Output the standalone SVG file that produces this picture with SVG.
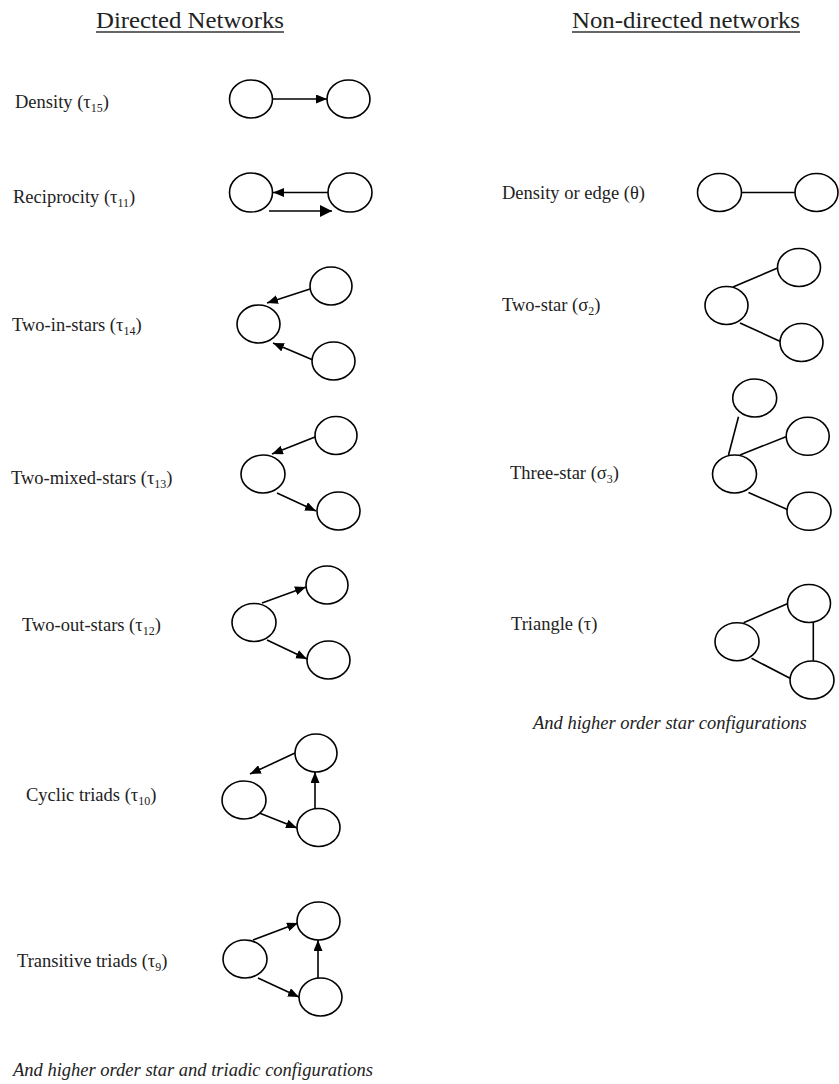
<svg xmlns="http://www.w3.org/2000/svg" width="839" height="1084" viewBox="0 0 839 1084">
<style>
  .hd { font-family: "Liberation Serif", "Times New Roman", serif; font-size: 23px; fill: #222; }
  .lb { font-family: "Liberation Serif", "Times New Roman", serif; font-size: 18.5px; fill: #222; }
  .ft { font-family: "Liberation Serif", "Times New Roman", serif; font-size: 18.5px; font-style: italic; fill: #222; }
  .nd { fill: #fff; stroke: #000; stroke-width: 1.6; }
  .ed { stroke: #000; stroke-width: 1.6; fill: none; }
  .ul { stroke: #333; stroke-width: 1.3; }
  .sub { font-size: 12px; }
</style>
<defs>
  <marker id="arr" viewBox="0 0 11 9" refX="11" refY="4.5" markerWidth="11" markerHeight="9" markerUnits="userSpaceOnUse" orient="auto">
    <path d="M0,0 L11,4.5 L0,9 z" fill="#000"/>
  </marker>
  <marker id="arrL" viewBox="0 0 12 12" refX="12" refY="6" markerWidth="12" markerHeight="12" markerUnits="userSpaceOnUse" orient="auto">
    <path d="M0,0 L12,6 L0,12 z" fill="#000"/>
  </marker>
</defs>
<rect width="839" height="1084" fill="#fff"/>

<g id="headers">
  <text class="hd" x="96" y="28" textLength="188" lengthAdjust="spacingAndGlyphs">Directed Networks</text>
  <line class="ul" x1="96" y1="32" x2="284" y2="32"/>
  <text class="hd" x="572" y="28" textLength="228" lengthAdjust="spacingAndGlyphs">Non-directed networks</text>
  <line class="ul" x1="572" y1="32" x2="800" y2="32"/>
</g>

<g id="labels">
  <text class="lb" x="15" y="108">Density (τ<tspan class="sub" dy="4">15</tspan><tspan dy="-4">)</tspan></text>
  <text class="lb" x="13" y="203">Reciprocity (τ<tspan class="sub" dy="4">11</tspan><tspan dy="-4">)</tspan></text>
  <text class="lb" x="12" y="331">Two-in-stars (τ<tspan class="sub" dy="4">14</tspan><tspan dy="-4">)</tspan></text>
  <text class="lb" x="11" y="484">Two-mixed-stars (τ<tspan class="sub" dy="4">13</tspan><tspan dy="-4">)</tspan></text>
  <text class="lb" x="22" y="631">Two-out-stars (τ<tspan class="sub" dy="4">12</tspan><tspan dy="-4">)</tspan></text>
  <text class="lb" x="26" y="801">Cyclic triads (τ<tspan class="sub" dy="4">10</tspan><tspan dy="-4">)</tspan></text>
  <text class="lb" x="17" y="967">Transitive triads (τ<tspan class="sub" dy="4">9</tspan><tspan dy="-4">)</tspan></text>
  <text class="ft" x="13" y="1076">And higher order star and triadic configurations</text>

  <text class="lb" x="502" y="199">Density or edge (θ)</text>
  <text class="lb" x="502" y="311">Two-star (σ<tspan class="sub" dy="4">2</tspan><tspan dy="-4">)</tspan></text>
  <text class="lb" x="510" y="479">Three-star (σ<tspan class="sub" dy="4">3</tspan><tspan dy="-4">)</tspan></text>
  <text class="lb" x="511" y="630">Triangle (τ)</text>
  <text class="ft" x="533" y="729">And higher order star configurations</text>
</g>

<g id="connectors">
  <line class="ed" x1="273" y1="99" x2="327" y2="99" marker-end="url(#arr)"/>
  <line class="ed" x1="328" y1="192.5" x2="273" y2="192.5" marker-end="url(#arr)"/>
  <line class="ed" x1="269" y1="211" x2="332" y2="211" stroke-width="2" marker-end="url(#arrL)"/>
  <line class="ed" x1="310" y1="289" x2="267" y2="303" marker-end="url(#arr)"/>
  <line class="ed" x1="313" y1="360" x2="273" y2="343" marker-end="url(#arr)"/>
  <line class="ed" x1="315" y1="437" x2="272" y2="454" marker-end="url(#arr)"/>
  <line class="ed" x1="277" y1="493" x2="316" y2="511" marker-end="url(#arr)"/>
  <line class="ed" x1="262" y1="603" x2="306" y2="587" marker-end="url(#arr)"/>
  <line class="ed" x1="267" y1="640" x2="307" y2="659" marker-end="url(#arr)"/>
  <line class="ed" x1="295" y1="753" x2="250" y2="774" marker-end="url(#arr)"/>
  <line class="ed" x1="247" y1="808" x2="297" y2="828" marker-end="url(#arr)"/>
  <line class="ed" x1="315" y1="809" x2="315" y2="772" marker-end="url(#arr)"/>
  <line class="ed" x1="253" y1="940" x2="298" y2="923" marker-end="url(#arr)"/>
  <line class="ed" x1="258" y1="978" x2="299" y2="997" marker-end="url(#arr)"/>
  <line class="ed" x1="318" y1="978" x2="318" y2="940" marker-end="url(#arr)"/>

  <line class="ed" x1="741.5" y1="192.5" x2="795" y2="192.5"/>
  <line class="ed" x1="733" y1="287" x2="780" y2="267"/>
  <line class="ed" x1="740" y1="323" x2="781.5" y2="342"/>
  <line class="ed" x1="728.5" y1="455" x2="738.5" y2="416.7"/>
  <line class="ed" x1="740" y1="455" x2="786" y2="436.7"/>
  <line class="ed" x1="748.5" y1="492.5" x2="788.5" y2="510"/>
  <line class="ed" x1="743.5" y1="622.7" x2="788.5" y2="603.3"/>
  <line class="ed" x1="751.5" y1="658.3" x2="790" y2="678.3"/>
  <line class="ed" x1="813.3" y1="622.7" x2="813.3" y2="660.7"/>
</g>

<g id="node-density">
  <ellipse class="nd" cx="251" cy="99" rx="21.5" ry="19"/>
  <ellipse class="nd" cx="348.5" cy="99" rx="21.5" ry="19"/>
</g>
<g id="node-reciprocity">
  <ellipse class="nd" cx="251" cy="192.5" rx="21.5" ry="19.5"/>
  <ellipse class="nd" cx="350" cy="192.5" rx="22" ry="19.5"/>
</g>
<g id="node-two-in-stars">
  <ellipse class="nd" cx="258.5" cy="324" rx="21.5" ry="19"/>
  <ellipse class="nd" cx="331" cy="286" rx="21" ry="19"/>
  <ellipse class="nd" cx="333.5" cy="361" rx="21.5" ry="19"/>
</g>
<g id="node-two-mixed-stars">
  <ellipse class="nd" cx="263" cy="474" rx="22" ry="19"/>
  <ellipse class="nd" cx="336" cy="435.5" rx="21" ry="19"/>
  <ellipse class="nd" cx="338.5" cy="511" rx="21.5" ry="19"/>
</g>
<g id="node-two-out-stars">
  <ellipse class="nd" cx="254" cy="622.5" rx="22" ry="19"/>
  <ellipse class="nd" cx="327" cy="585" rx="21" ry="19"/>
  <ellipse class="nd" cx="328.5" cy="660" rx="21.5" ry="19"/>
</g>
<g id="node-cyclic-triads">
  <ellipse class="nd" cx="244" cy="800" rx="22" ry="19"/>
  <ellipse class="nd" cx="316" cy="753" rx="21" ry="19"/>
  <ellipse class="nd" cx="318.5" cy="827.5" rx="21.5" ry="19"/>
</g>
<g id="node-transitive-triads">
  <ellipse class="nd" cx="245" cy="959" rx="22" ry="19"/>
  <ellipse class="nd" cx="318.5" cy="921" rx="21.5" ry="19"/>
  <ellipse class="nd" cx="320.5" cy="997" rx="21.5" ry="19"/>
</g>

<g id="node-density-edge">
  <ellipse class="nd" cx="719.5" cy="192.5" rx="22" ry="19"/>
  <ellipse class="nd" cx="816.5" cy="192.5" rx="21.5" ry="19"/>
</g>
<g id="node-two-star">
  <ellipse class="nd" cx="726.5" cy="305.5" rx="21.5" ry="19"/>
  <ellipse class="nd" cx="799" cy="267.5" rx="21.5" ry="19"/>
  <ellipse class="nd" cx="801.5" cy="342.5" rx="21.5" ry="19"/>
</g>
<g id="node-three-star">
  <ellipse class="nd" cx="734.5" cy="474" rx="22" ry="19"/>
  <ellipse class="nd" cx="754.7" cy="398" rx="22" ry="19"/>
  <ellipse class="nd" cx="807.7" cy="436.3" rx="21.5" ry="19"/>
  <ellipse class="nd" cx="809" cy="511.3" rx="22" ry="19"/>
</g>
<g id="node-triangle">
  <ellipse class="nd" cx="737" cy="641.7" rx="22" ry="19"/>
  <ellipse class="nd" cx="809" cy="603.5" rx="21.5" ry="19"/>
  <ellipse class="nd" cx="812" cy="680" rx="22" ry="19"/>
</g>
</svg>
